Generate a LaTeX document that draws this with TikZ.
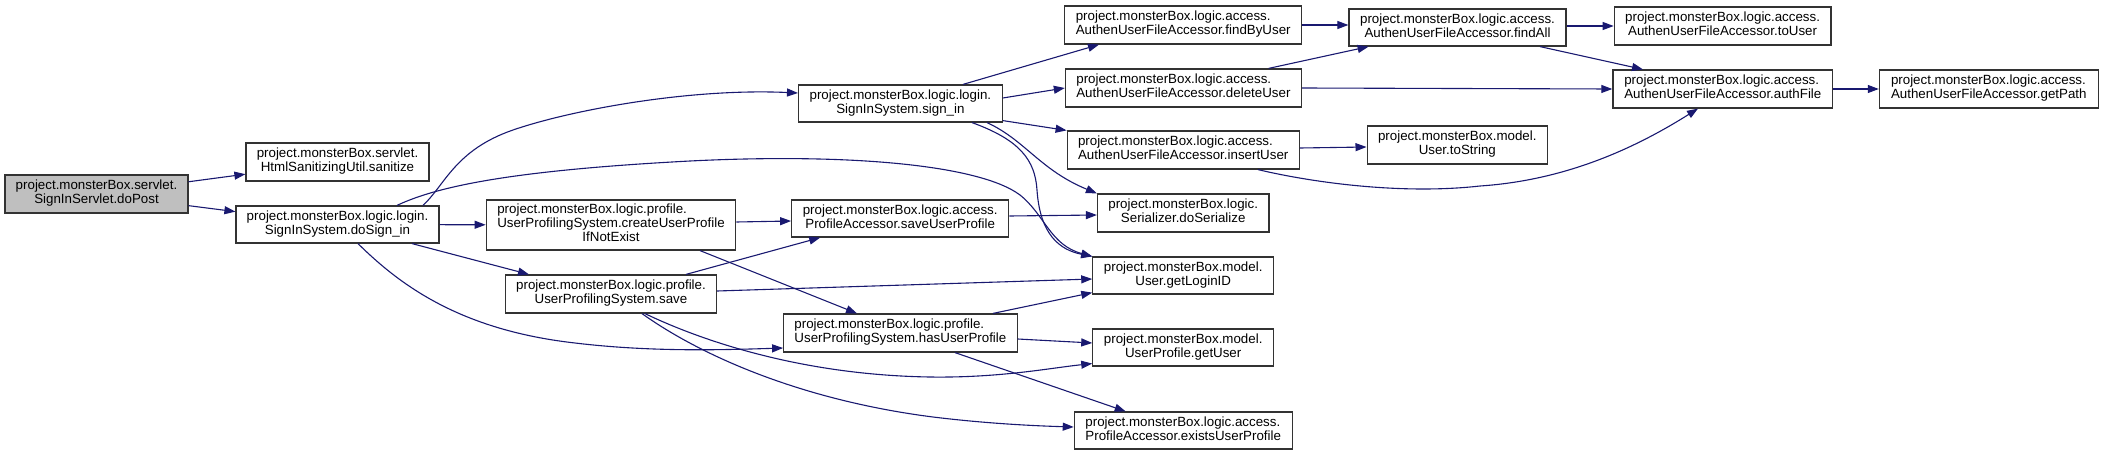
\documentclass[tikz,border=0pt]{standalone}
\usepackage{fontspec}
\setmainfont{Liberation Sans}
\usetikzlibrary{arrows.meta}
\definecolor{edgeblue}{HTML}{191970}
\definecolor{boxgray}{HTML}{333333}
\definecolor{rootfill}{HTML}{BFBFBF}
\newcommand\twoline[2]{\begin{tabular}{@{}l@{}}#1\\\multicolumn{1}{@{}c@{}}{#2}\end{tabular}}
\tikzset{
  fn/.style={draw=boxgray, line width=1.2pt, fill=white, rectangle, inner sep=0pt,
    minimum height=38pt, font=\fontsize{13.33pt}{14pt}\selectfont},
  rootfn/.style={fn, fill=rootfill},
  call/.style={draw=edgeblue, line width=1.1pt, -{Triangle[length=11pt,width=8pt]}}
}
\begin{document}
\begin{tikzpicture}[x=1pt,y=-1pt]
\useasboundingbox (0,0) rectangle (2102,455);
% nodes
\node[rootfn, minimum width=183pt] (doPost) at (96.5,194) {\twoline{project.monsterBox.servlet.}{SignInServlet.doPost}};
\node[fn, minimum width=183pt] (sanitize) at (337.5,162) {\twoline{project.monsterBox.servlet.}{HtmlSanitizingUtil.sanitize}};
\node[fn, minimum width=203pt, minimum height=37pt] (doSignIn) at (337.5,224.5) {\twoline{project.monsterBox.logic.login.}{SignInSystem.doSign\_in}};
\node[fn, minimum width=203.6pt, minimum height=37pt] (signIn) at (900.4,103.5) {\twoline{project.monsterBox.logic.login.}{SignInSystem.sign\_in}};
\node[fn, minimum width=249.5pt, minimum height=50pt] (create) at (611,225) {\begin{tabular}{@{}l@{}}project.monsterBox.logic.profile.\\UserProfilingSystem.createUserProfile\\\multicolumn{1}{@{}c@{}}{IfNotExist}\end{tabular}};
\node[fn, minimum width=217pt, minimum height=37pt] (saveUP) at (900.2,218.5) {\twoline{project.monsterBox.logic.access.}{ProfileAccessor.saveUserProfile}};
\node[fn, minimum width=211pt] (save) at (611,294) {\twoline{project.monsterBox.logic.profile.}{UserProfilingSystem.save}};
\node[fn, minimum width=233.4pt] (hasUP) at (900.4,333) {\twoline{project.monsterBox.logic.profile.}{UserProfilingSystem.hasUserProfile}};
\node[fn, minimum width=237pt] (findByUser) at (1183.2,25) {\twoline{project.monsterBox.logic.access.}{AuthenUserFileAccessor.findByUser}};
\node[fn, minimum width=217pt, minimum height=37pt] (findAll) at (1457.5,27.5) {\twoline{project.monsterBox.logic.access.}{AuthenUserFileAccessor.findAll}};
\node[fn, minimum width=236pt] (deleteUser) at (1183.4,88) {\twoline{project.monsterBox.logic.access.}{AuthenUserFileAccessor.deleteUser}};
\node[fn, minimum width=232pt] (insertUser) at (1183.2,150) {\twoline{project.monsterBox.logic.access.}{AuthenUserFileAccessor.insertUser}};
\node[fn, minimum width=180.4pt] (toString) at (1457.3,145) {\twoline{project.monsterBox.model.}{User.toString}};
\node[fn, minimum width=171.4pt] (doSerialize) at (1183.2,213) {\twoline{project.monsterBox.logic.}{Serializer.doSerialize}};
\node[fn, minimum width=180.7pt, minimum height=37pt] (getLoginID) at (1183.2,275.5) {\twoline{project.monsterBox.model.}{User.getLoginID}};
\node[fn, minimum width=180.7pt, minimum height=37pt] (getUser) at (1183.2,347.5) {\twoline{project.monsterBox.model.}{UserProfile.getUser}};
\node[fn, minimum width=217.8pt, minimum height=37pt] (exists) at (1183.2,430.5) {\twoline{project.monsterBox.logic.access.}{ProfileAccessor.existsUserProfile}};
\node[fn, minimum width=216.7pt] (toUser) at (1722.6,26) {\twoline{project.monsterBox.logic.access.}{AuthenUserFileAccessor.toUser}};
\node[fn, minimum width=219.8pt] (authFile) at (1722.8,89) {\twoline{project.monsterBox.logic.access.}{AuthenUserFileAccessor.authFile}};
\node[fn, minimum width=218.8pt] (getPath) at (1988.8,89) {\twoline{project.monsterBox.logic.access.}{AuthenUserFileAccessor.getPath}};
% edges
\draw[call] (doPost) -- (sanitize);
\draw[call] (doPost) -- (doSignIn);
\draw[call] ([shift={(85.5,0)}]doSignIn.north) .. controls (445,185) and (455,150) .. (513,130)
  .. controls (571,110) and (690,88) .. ([shift={(0,-10.5)}]signIn.west);
\draw[call] ([shift={(59.5,0)}]doSignIn.north) .. controls (440,185) and (520,170) .. (690,161)
  .. controls (850,153) and (980,165) .. (1020,195)
  .. controls (1045,215) and (1050,245) .. (getLoginID.north west);
\draw[call] (doSignIn) -- (create);
\draw[call] ([shift={(74.5,0)}]doSignIn.south) -- ([shift={(-82,0)}]save.north);
\draw[call] ([shift={(20.5,0)}]doSignIn.south) .. controls (400,285) and (460,330) .. (575,343)
  .. controls (650,352) and (720,350) .. ([shift={(0,15)}]hasUP.west);
\draw[call] ([shift={(62.6,0)}]signIn.north) -- ([shift={(-84.2,0)}]findByUser.south);
\draw[call] ([shift={(0,-5.5)}]signIn.east) -- (deleteUser.west);
\draw[call] ([shift={(0,-2)}]signIn.south east) -- (insertUser.north west);
\draw[call] ([shift={(86.6,0)}]signIn.south) .. controls (1025,140) and (1040,170) .. (doSerialize.north west);
\draw[call] ([shift={(71.6,0)}]signIn.south) .. controls (1020,140) and (1035,160) .. (1037,190)
  .. controls (1040,235) and (1060,250) .. (getLoginID.north west);
\draw[call] ([shift={(0,-2.5)}]saveUP.east) -- ([shift={(0,2)}]doSerialize.west);
\draw[call] ([shift={(75,0)}]save.north) -- ([shift={(-80,0)}]saveUP.south);
\draw[call] ([shift={(0,-3)}]save.east) -- ([shift={(0,3.5)}]getLoginID.west);
\draw[call] ([shift={(34,0)}]save.south) .. controls (700,340) and (800,375) .. (930,377)
  .. controls (1000,378) and (1050,368) .. ([shift={(0,-3)}]getUser.south west);
\draw[call] ([shift={(31,0)}]save.south) .. controls (700,355) and (800,400) .. (933,417)
  .. controls (990,424) and (1040,426) .. ([shift={(0,-3.5)}]exists.west);
\draw[call] ([shift={(0,-3)}]create.east) -- ([shift={(0,2.5)}]saveUP.west);
\draw[call] ([shift={(89,0)}]create.south) -- ([shift={(-43.4,0)}]hasUP.north);
\draw[call] ([shift={(92.6,0)}]hasUP.north) -- ([shift={(0,-2)}]getLoginID.south west);
\draw[call] ([shift={(0,6)}]hasUP.east) -- ([shift={(0,-4.5)}]getUser.west);
\draw[call] ([shift={(54.6,0)}]hasUP.south) -- ([shift={(-57.5,0)}]exists.north);
\draw[call] (findByUser.east) -- ([shift={(0,-2.5)}]findAll.west);
\draw[call] ([shift={(85.2,0)}]deleteUser.north) -- ([shift={(-88.9,0)}]findAll.south);
\draw[call] (deleteUser.east) -- (authFile.west);
\draw[call] ([shift={(0,-2)}]insertUser.east) -- ([shift={(0,2)}]toString.west);
\draw[call] ([shift={(74.8,0)}]insertUser.south) .. controls (1310,182) and (1400,195) .. (1480,186)
  .. controls (1570,180) and (1640,145) .. ([shift={(-24.8,0)}]authFile.south);
\draw[call] ([shift={(0,-1.5)}]findAll.east) -- (toUser.west);
\draw[call] ([shift={(82.5,0)}]findAll.south) -- ([shift={(-79.8,0)}]authFile.north);
\draw[call] (authFile) -- (getPath);
\end{tikzpicture}
\end{document}
